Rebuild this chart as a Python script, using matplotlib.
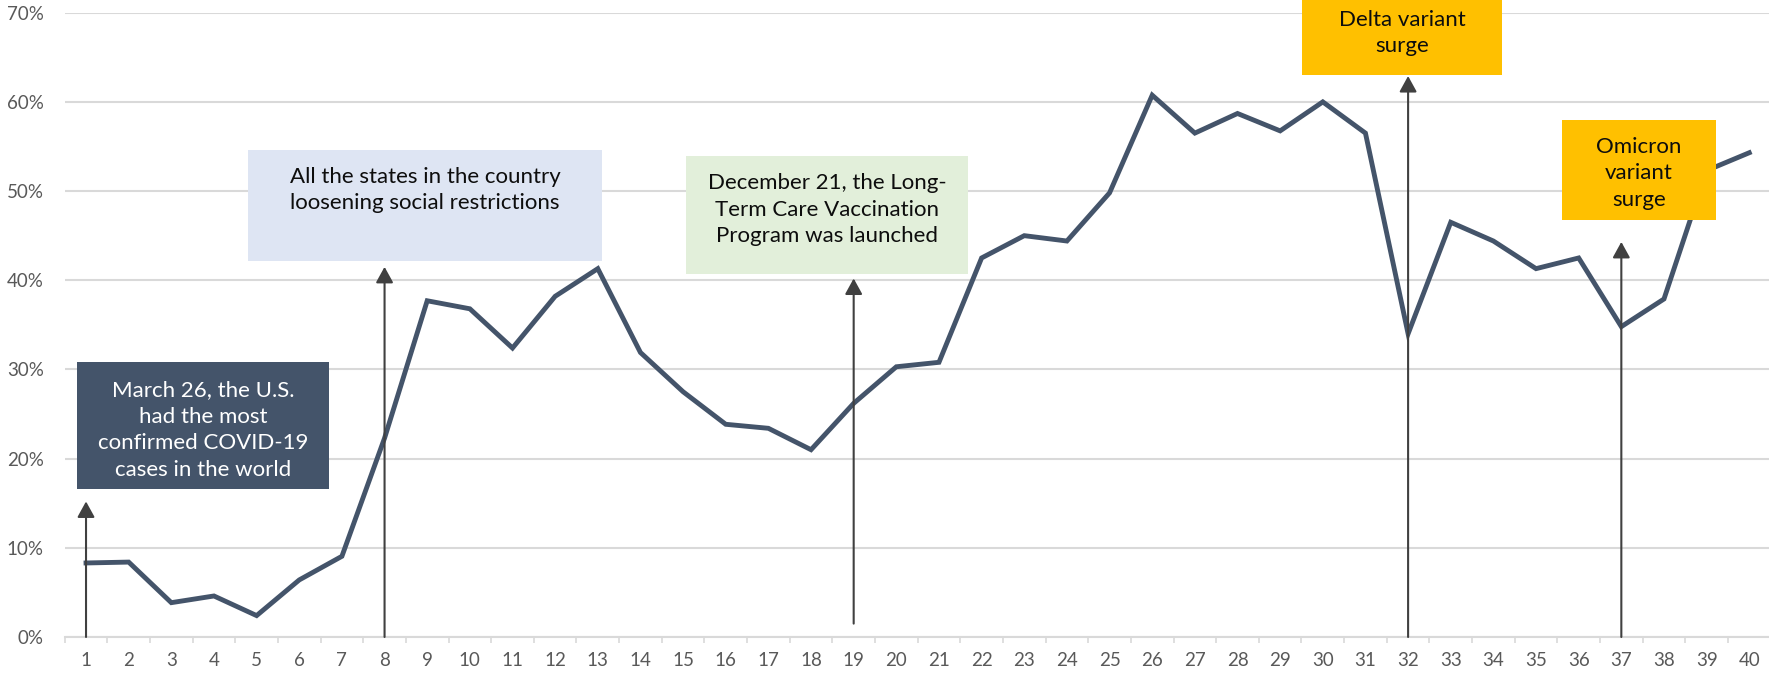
import matplotlib.pyplot as plt
from matplotlib.patches import Rectangle
from matplotlib.ticker import PercentFormatter, FixedLocator

plt.rcParams['font.family'] = ['Lato', 'DejaVu Sans']

# data
weeks = list(range(1, 41))
share = [8.3, 8.4, 3.85, 4.6, 2.4, 6.4, 9.05, 22.3, 37.7, 36.8,
         32.4, 38.2, 41.3, 31.9, 27.5, 23.85, 23.4, 21.0, 26.2, 30.3,
         30.8, 42.5, 45.0, 44.4, 49.8, 60.75, 56.5, 58.7, 56.75, 60.0,
         56.5, 34.0, 46.5, 44.4, 41.3, 42.5, 34.8, 37.9, 52.3, 54.3]
ytick_vals = [0, 10, 20, 30, 40, 50, 60, 70]

notes = ["March 26, the U.S.\nhad the most\nconfirmed COVID-19\ncases in the world",
         "All the states in the country\nloosening social restrictions",
         "December 21, the Long-\nTerm Care Vaccination\nProgram was launched",
         "Delta variant\nsurge",
         "Omicron\nvariant\nsurge"]
note_week = [1, 8, 19, 32, 37]

# box layout: x0, x1, y0, y1 (data units), face colour, text colour, text y
boxes = [(0.79, 6.70, 16.63, 30.83, '#44546A', 'white', 23.2),
         (4.80, 13.10, 42.19, 54.6, '#DEE5F3', '#0D0D0D', 50.1),
         (15.07, 21.68, 40.66, 53.92, '#E2EFDA', '#0D0D0D', 47.9),
         (29.51, 34.20, 63.04, 71.5, '#FFC000', '#0D0D0D', 67.7),
         (35.61, 39.22, 46.78, 57.96, '#FFC000', '#0D0D0D', 52.0)]
arrows = [(0, 15.2), (0, 41.5), (1.5, 40.2), (0, 62.9), (0, 44.3)]

fig = plt.figure(figsize=(17.69, 6.74), dpi=100)
ax = fig.add_axes([64.7/1769, 1 - 637/674, (1770.6 - 64.7)/1769, (637 - 12.7)/674])

ax.plot(weeks, share, color='#44546A', lw=3.5, solid_joinstyle='miter', zorder=3)

for (x0, x1, y0, y1, fc, tc, ty), txt, wk in zip(boxes, notes, note_week):
    ax.add_patch(Rectangle((x0, y0), x1 - x0, y1 - y0, facecolor=fc, edgecolor='none',
                           zorder=4, clip_on=False))
    ax.text((x0 + x1) / 2, ty, txt, ha='center', va='center', color=tc, fontsize=16,
            linespacing=1.4, zorder=5, clip_on=False)

for wk, (ya, yb) in zip(note_week, arrows):
    ax.annotate('', xy=(wk, yb), xytext=(wk, ya),
                arrowprops=dict(arrowstyle='-|>,head_length=0.6,head_width=0.33',
                                color='#404040', lw=1.5,
                                mutation_scale=16, shrinkA=0, shrinkB=0),
                zorder=6, annotation_clip=False)

ax.set_xlim(0.5, 40.5)
ax.set_ylim(0, 70)
ax.set_xticks(weeks)
ax.xaxis.set_minor_locator(FixedLocator([w + 0.5 for w in range(0, 41)]))
ax.tick_params(axis='x', which='major', length=0, pad=11, labelsize=13.5, labelcolor='#595959')
ax.tick_params(axis='x', which='minor', length=4, width=1.2, color='#D9D9D9')
ax.set_yticks(ytick_vals)
ax.yaxis.set_major_formatter(PercentFormatter(decimals=0))
ax.tick_params(axis='y', length=0, pad=15, labelsize=13.5, labelcolor='#595959')
ax.grid(axis='y', color='#D9D9D9', lw=1.5)
ax.set_axisbelow(True)
for s in ['top', 'right', 'left']:
    ax.spines[s].set_visible(False)
ax.spines['bottom'].set_color('#D9D9D9')
ax.spines['bottom'].set_linewidth(1.5)

plt.savefig('out.png', dpi=100)
